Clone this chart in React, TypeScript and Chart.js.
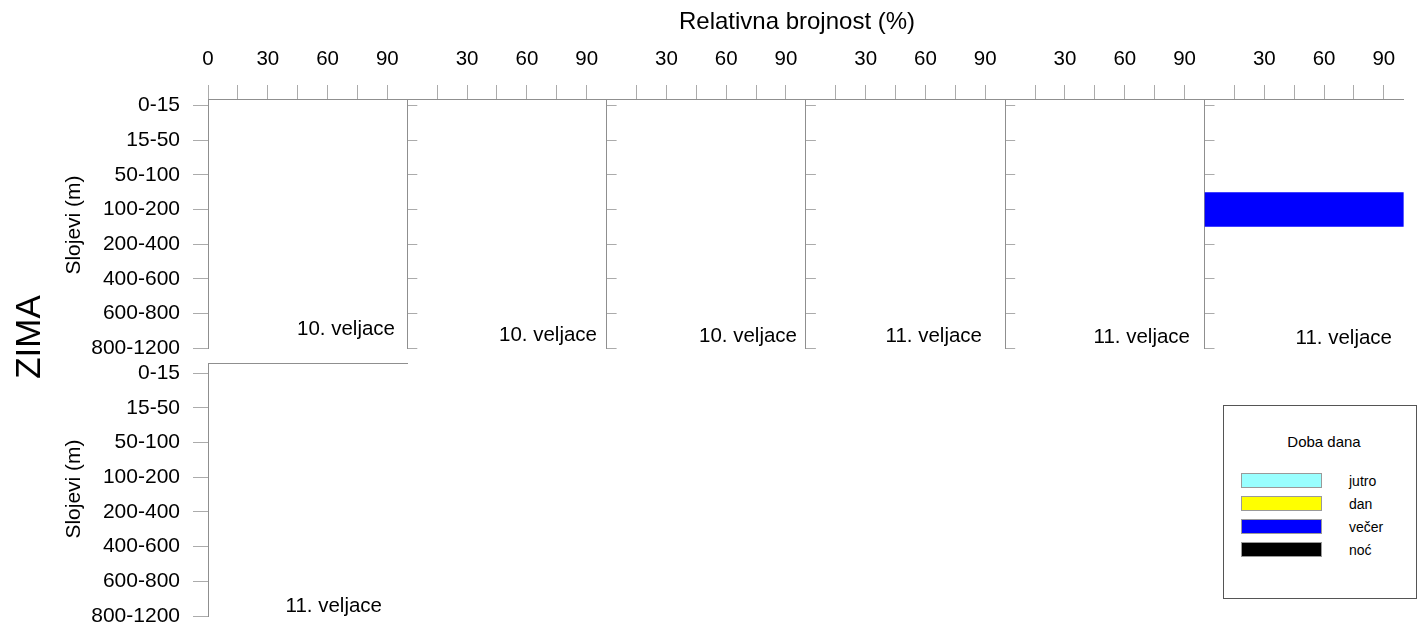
import React, { useEffect, useRef } from 'react';
import { Chart, registerables } from 'chart.js';

Chart.register(...registerables);

const W = 1418;
const H = 623;
const FONT = "'Liberation Sans', Arial, Helvetica, sans-serif";

// ---- data ----
const LAYERS = ['0-15', '15-50', '50-100', '100-200', '200-400', '400-600', '600-800', '800-1200'];
const SERIES_NAMES = ['jutro', 'dan', 'večer', 'noć'];
const SERIES_COLORS = ['#99FFFF', '#FFFF00', '#0000FF', '#000000'];
const PANEL_DATES = ['10. veljace', '10. veljace', '10. veljace', '11. veljace', '11. veljace', '11. veljace', '11. veljace'];
const X_TICKS = [0, 15, 30, 45, 60, 75, 90];
const X_LABELS = [0, 30, 60, 90];
const X_TITLE = 'Relativna brojnost (%)';
const Y_TITLE = 'Slojevi (m)';
const SEASON = 'ZIMA';
const LEGEND_TITLE = 'Doba dana';

// relative abundance (%) — one row per panel, values in LAYERS order
const JUTRO = [
  [0, 0, 0, 0, 0, 0, 0, 0],
  [0, 0, 0, 0, 0, 0, 0, 0],
  [0, 0, 0, 0, 0, 0, 0, 0],
  [0, 0, 0, 0, 0, 0, 0, 0],
  [0, 0, 0, 0, 0, 0, 0, 0],
  [0, 0, 0, 0, 0, 0, 0, 0],
  [0, 0, 0, 0, 0, 0, 0, 0],
];
const DAN = [
  [0, 0, 0, 0, 0, 0, 0, 0],
  [0, 0, 0, 0, 0, 0, 0, 0],
  [0, 0, 0, 0, 0, 0, 0, 0],
  [0, 0, 0, 0, 0, 0, 0, 0],
  [0, 0, 0, 0, 0, 0, 0, 0],
  [0, 0, 0, 0, 0, 0, 0, 0],
  [0, 0, 0, 0, 0, 0, 0, 0],
];
const VECER = [
  [0, 0, 0, 0, 0, 0, 0, 0],
  [0, 0, 0, 0, 0, 0, 0, 0],
  [0, 0, 0, 0, 0, 0, 0, 0],
  [0, 0, 0, 0, 0, 0, 0, 0],
  [0, 0, 0, 0, 0, 0, 0, 0],
  [0, 0, 0, 100, 0, 0, 0, 0],
  [0, 0, 0, 0, 0, 0, 0, 0],
];
const NOC = [
  [0, 0, 0, 0, 0, 0, 0, 0],
  [0, 0, 0, 0, 0, 0, 0, 0],
  [0, 0, 0, 0, 0, 0, 0, 0],
  [0, 0, 0, 0, 0, 0, 0, 0],
  [0, 0, 0, 0, 0, 0, 0, 0],
  [0, 0, 0, 0, 0, 0, 0, 0],
  [0, 0, 0, 0, 0, 0, 0, 0],
];
const SERIES_VALUES = [JUTRO, DAN, VECER, NOC];

// ---- layout (not data) ----
const PANEL_W = 199.3;
const PANELS = [
  ...[0, 1, 2, 3, 4, 5].map((i) => ({
    left: 208 + i * PANEL_W,
    top: 99,
    bottom: 348,
    yMin: -0.19,
    first: i === 0,
    xTicks: true,
  })),
  { left: 208, top: 363, bottom: 616, yMin: -0.29, first: true, xTicks: false },
];
const DATE_POS = [
  [395, 328],
  [597, 334],
  [797, 335],
  [982, 335],
  [1190, 336],
  [1392, 337],
  [382, 605],
];

const AXIS_COLOR = '#8f8f8f';
const TICK_COLOR = '#ababab';

function makeConfig(p: number): any {
  const g = PANELS[p];
  const right = g.left + PANEL_W;
  const datasets = SERIES_NAMES.map((name, s) => ({
    label: name,
    data: LAYERS.map((_, li) => {
      const v = SERIES_VALUES[s][p][li];
      return { y: li, x: v === 0 ? null : v };
    }),
    backgroundColor: SERIES_COLORS[s],
    borderWidth: 0,
    inflateAmount: 0,
    barPercentage: 1,
    categoryPercentage: 1,
  }));
  return {
    type: 'bar',
    data: { datasets },
    options: {
      indexAxis: 'y',
      animation: false,
      responsive: false,
      events: [],
      layout: {
        padding: {
          left: g.first ? 0 : g.left,
          top: 0,
          right: W - right,
          bottom: H - g.bottom,
        },
      },
      plugins: { legend: { display: false }, tooltip: { enabled: false }, title: { display: false } },
      scales: {
        x: {
          type: 'linear',
          position: 'top',
          min: 0,
          max: 100,
          stacked: true,
          offset: false,
          afterBuildTicks: (scale: any) => {
            const vals = g.xTicks ? X_TICKS.filter((v) => g.first || v !== 0) : [];
            scale.ticks = vals.map((v) => ({ value: v }));
          },
          afterFit: (scale: any) => {
            scale.height = g.top;
            scale.paddingLeft = 0;
            scale.paddingRight = 0;
            scale.paddingTop = 0;
            scale.paddingBottom = 0;
          },
          grid: {
            display: true,
            drawOnChartArea: false,
            drawTicks: g.xTicks,
            tickLength: 14,
            color: TICK_COLOR,
            lineWidth: 1,
            offset: false,
          },
          border: { display: true, color: AXIS_COLOR, width: 1 },
          ticks: {
            display: g.xTicks,
            autoSkip: false,
            maxRotation: 0,
            minRotation: 0,
            padding: 13,
            color: '#000',
            font: { family: FONT, size: 20.5 },
            callback: (v: number) => (X_LABELS.includes(v) && (g.first || v !== 0) ? String(v) : ''),
          },
        },
        y: {
          type: 'linear',
          reverse: true,
          min: g.yMin,
          max: LAYERS.length - 1,
          stacked: true,
          offset: false,
          afterBuildTicks: (scale: any) => {
            scale.ticks = LAYERS.map((_, i) => ({ value: i }));
          },
          afterFit: (scale: any) => {
            scale.width = g.first ? g.left : 0;
            scale.paddingLeft = 0;
            scale.paddingRight = 0;
            scale.paddingTop = 0;
            scale.paddingBottom = 0;
          },
          grid: {
            display: true,
            drawOnChartArea: false,
            drawTicks: true,
            tickLength: g.first ? 15 : -10,
            color: TICK_COLOR,
            lineWidth: 1,
            offset: false,
          },
          border: { display: true, color: AXIS_COLOR, width: 1 },
          ticks: {
            display: g.first,
            autoSkip: false,
            padding: 13,
            color: '#000',
            font: { family: FONT, size: 21 },
            callback: (v: number) => LAYERS[v] ?? '',
          },
        },
      },
    },
  };
}

const abs: React.CSSProperties = { position: 'absolute', whiteSpace: 'nowrap', lineHeight: 1, fontFamily: FONT, color: '#000' };

export default function App() {
  const refs = useRef<(HTMLCanvasElement | null)[]>([]);

  useEffect(() => {
    const charts = PANELS.map((_, p) => {
      const c = refs.current[p];
      return c ? new Chart(c, makeConfig(p)) : null;
    });
    return () => {
      charts.forEach((ch) => ch && ch.destroy());
    };
  }, []);

  return (
    <div style={{ position: 'absolute', left: 0, top: 0, width: W, height: H, overflow: 'hidden', background: '#fff' }}>
      {PANELS.map((_, p) => (
        <canvas
          key={p}
          ref={(el) => {
            refs.current[p] = el;
          }}
          width={W}
          height={H}
          style={{ position: 'absolute', left: 0, top: 0, width: W, height: H }}
        />
      ))}

      <div style={{ ...abs, left: 797, top: 21, fontSize: 24, transform: 'translate(-50%, -50%)' }}>{X_TITLE}</div>

      <div style={{ ...abs, left: 27, top: 337, fontSize: 35, transform: 'translate(-50%, -50%) rotate(-90deg)' }}>{SEASON}</div>
      <div style={{ ...abs, left: 72, top: 225, fontSize: 21, transform: 'translate(-50%, -50%) rotate(-90deg)' }}>{Y_TITLE}</div>
      <div style={{ ...abs, left: 72, top: 489, fontSize: 21, transform: 'translate(-50%, -50%) rotate(-90deg)' }}>{Y_TITLE}</div>

      {PANEL_DATES.map((d, i) => (
        <div key={i} style={{ ...abs, left: DATE_POS[i][0], top: DATE_POS[i][1], fontSize: 20.5, transform: 'translate(-100%, -50%)' }}>
          {d}
        </div>
      ))}

      <div
        style={{
          position: 'absolute',
          left: 1223,
          top: 405,
          width: 194,
          height: 194,
          border: '1px solid #555',
          boxSizing: 'border-box',
          background: '#fff',
        }}
      >
        <div style={{ ...abs, left: 100, top: 35, fontSize: 15, transform: 'translate(-50%, -50%)' }}>{LEGEND_TITLE}</div>
        {SERIES_NAMES.map((n, i) => (
          <React.Fragment key={n}>
            <div
              style={{
                position: 'absolute',
                left: 17,
                top: 67 + i * 23,
                width: 81,
                height: 15,
                background: SERIES_COLORS[i],
                border: '1px solid #9a9a9a',
                boxSizing: 'border-box',
              }}
            />
            <div style={{ ...abs, left: 125, top: 75 + i * 23, fontSize: 14, transform: 'translateY(-50%)' }}>{n}</div>
          </React.Fragment>
        ))}
      </div>
    </div>
  );
}
